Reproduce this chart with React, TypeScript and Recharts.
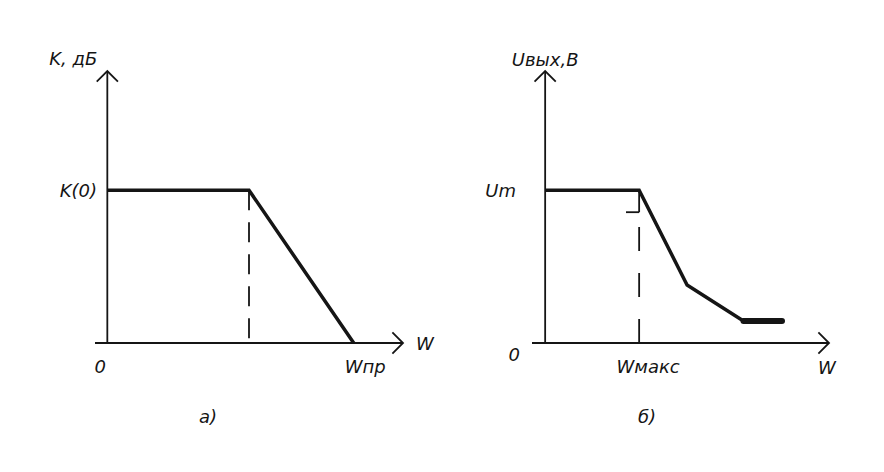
import React from "react";
import { LineChart, Line, XAxis, YAxis, ReferenceLine } from "recharts";

// а) АЧХ: K(w)
const kPoints = [
  { w: 0, k: 1 },
  { w: 0.575, k: 1 },
  { w: 1, k: 0 },
];
const kCutoff = 0.575;
const kXTicks = [0, 1];
const kXLabels = ["0", "Wпр"];
const kYTicks = [1];
const kYLabels = ["K(0)"];

// б) Uвых(w)
const uPoints = [
  { w: 0, u: 1 },
  { w: 1, u: 1 },
  { w: 1.51, u: 0.38 },
  { w: 2.11, u: 0.144 },
];
const uTail = [
  { w: 2.11, u: 0.144 },
  { w: 2.52, u: 0.144 },
];
const uMax = 1;
const uMark = { w: 0.86, u: 0.856 };
const uXTicks = [1];
const uXLabels = ["Wмакс"];
const uYTicks = [0, 1];
const uYLabels = ["0", "Um"];

const INK = "#151515";
const FONT: React.CSSProperties = {
  fontFamily: "'DejaVu Sans', sans-serif",
  fontStyle: "italic",
  fontSize: 18,
};

type Shift = { dx: number; dy: number; anchor: "start" | "middle" | "end" };

const makeTick =
  (ticks: number[], labels: string[], shifts: Shift[]) => (p: any) => {
    const i = ticks.indexOf(p.payload.value);
    if (i < 0) return <g />;
    const s = shifts[i];
    return (
      <text x={p.x + s.dx} y={p.y + s.dy} textAnchor={s.anchor} fill={INK} style={FONT}>
        {labels[i]}
      </text>
    );
  };

// axis line with an open arrow head and a caption near the tip
const arrowAxis = (text: string, tdx: number, tdy: number, anchor: string) => (p: any) => {
  const { x1, y1, x2, y2 } = p;
  const a = Math.atan2(y2 - y1, x2 - x1);
  const L = 15;
  const s = Math.PI / 4;
  const w1x = x2 - L * Math.cos(a - s);
  const w1y = y2 - L * Math.sin(a - s);
  const w2x = x2 - L * Math.cos(a + s);
  const w2y = y2 - L * Math.sin(a + s);
  return (
    <g>
      <line x1={x1} y1={y1} x2={x2} y2={y2} stroke={INK} strokeWidth={1.8} />
      <polyline
        points={`${w1x},${w1y} ${x2},${y2} ${w2x},${w2y}`}
        fill="none"
        stroke={INK}
        strokeWidth={1.8}
      />
      <text x={x2 + tdx} y={y2 + tdy} textAnchor={anchor as any} fill={INK} style={FONT}>
        {text}
      </text>
    </g>
  );
};

const K_X: [number, number] = [-0.05, 1.2];
const U_X: [number, number] = [-0.14, 3.02];
const Y_DOM: [number, number] = [0, 1.78];

const Caption = ({ left, text }: { left: number; text: string }) => (
  <div
    style={{
      position: "absolute",
      left: left - 30,
      top: 406,
      width: 60,
      textAlign: "center",
      lineHeight: "21px",
      color: INK,
      ...FONT,
    }}
  >
    {text}
  </div>
);

export default function App() {
  return (
    <div
      style={{
        position: "absolute",
        left: 0,
        top: 0,
        width: 884,
        height: 472,
        background: "#fff",
        overflow: "hidden",
      }}
    >
      <div style={{ position: "absolute", left: 0, top: 0 }}>
        <LineChart width={442} height={472} margin={{ top: 71, right: 39, bottom: 99, left: 55 }}>
          <XAxis
            type="number"
            dataKey="w"
            domain={K_X}
            ticks={kXTicks}
            interval={0}
            axisLine={false}
            tickLine={false}
            tickSize={0}
            tickMargin={0}
            height={30}
            tick={makeTick(kXTicks, kXLabels, [
              { dx: -7, dy: 30, anchor: "middle" },
              { dx: -9, dy: 30, anchor: "start" },
            ])}
          />
          <YAxis
            type="number"
            domain={Y_DOM}
            ticks={kYTicks}
            interval={0}
            axisLine={false}
            tickLine={false}
            tickSize={0}
            tickMargin={0}
            width={40}
            tick={makeTick(kYTicks, kYLabels, [{ dx: 2, dy: 6.5, anchor: "end" }])}
          />
          <ReferenceLine
            segment={[{ x: K_X[0], y: 0 }, { x: K_X[1], y: 0 }]}
            ifOverflow="visible"
            shape={arrowAxis("W", 13, 7, "start")}
          />
          <ReferenceLine
            segment={[{ x: 0, y: 0 }, { x: 0, y: Y_DOM[1] }]}
            ifOverflow="visible"
            shape={arrowAxis("K, дБ", -34, -6, "middle")}
          />
          <ReferenceLine
            segment={[{ x: kCutoff, y: 1 }, { x: kCutoff, y: 0 }]}
            ifOverflow="visible"
            stroke={INK}
            strokeWidth={1.8}
            strokeDasharray="20 12"
          />
          <Line
            data={kPoints}
            dataKey="k"
            type="linear"
            stroke={INK}
            strokeWidth={3.5}
            dot={false}
            activeDot={false}
            isAnimationActive={false}
          />
        </LineChart>
      </div>

      <div style={{ position: "absolute", left: 442, top: 0 }}>
        <LineChart width={442} height={472} margin={{ top: 71, right: 55, bottom: 99, left: 50 }}>
          <XAxis
            type="number"
            dataKey="w"
            domain={U_X}
            ticks={uXTicks}
            interval={0}
            axisLine={false}
            tickLine={false}
            tickSize={0}
            tickMargin={0}
            height={30}
            tick={makeTick(uXTicks, uXLabels, [{ dx: 9, dy: 30, anchor: "middle" }])}
          />
          <YAxis
            type="number"
            domain={Y_DOM}
            ticks={uYTicks}
            interval={0}
            axisLine={false}
            tickLine={false}
            tickSize={0}
            tickMargin={0}
            width={40}
            tick={makeTick(uYTicks, uYLabels, [
              { dx: -12, dy: 18, anchor: "end" },
              { dx: -16, dy: 6.5, anchor: "end" },
            ])}
          />
          <ReferenceLine
            segment={[{ x: U_X[0], y: 0 }, { x: U_X[1], y: 0 }]}
            ifOverflow="visible"
            shape={arrowAxis("W", -2, 31, "middle")}
          />
          <ReferenceLine
            segment={[{ x: 0, y: 0 }, { x: 0, y: Y_DOM[1] }]}
            ifOverflow="visible"
            shape={arrowAxis("Uвых,В", 0, -5, "middle")}
          />
          <ReferenceLine
            segment={[{ x: uMax, y: 0 }, { x: uMax, y: uMark.u }]}
            ifOverflow="visible"
            stroke={INK}
            strokeWidth={1.8}
            strokeDasharray="24 22"
          />
          <ReferenceLine
            segment={[{ x: uMark.w, y: uMark.u }, { x: uMax, y: uMark.u }]}
            ifOverflow="visible"
            stroke={INK}
            strokeWidth={1.8}
          />
          <ReferenceLine
            segment={[{ x: uMax, y: uMark.u }, { x: uMax, y: 1 }]}
            ifOverflow="visible"
            stroke={INK}
            strokeWidth={1.8}
          />
          <Line
            data={uPoints}
            dataKey="u"
            type="linear"
            stroke={INK}
            strokeWidth={3.5}
            dot={false}
            activeDot={false}
            isAnimationActive={false}
          />
          <Line
            data={uTail}
            dataKey="u"
            type="linear"
            stroke={INK}
            strokeWidth={6}
            strokeLinecap="round"
            dot={false}
            activeDot={false}
            isAnimationActive={false}
          />
        </LineChart>
      </div>

      <Caption left={208} text="а)" />
      <Caption left={647} text="б)" />
    </div>
  );
}
